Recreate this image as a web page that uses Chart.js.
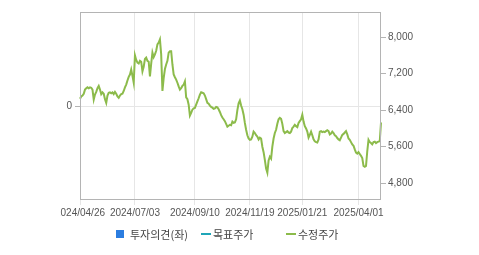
<!DOCTYPE html>
<html>
<head>
<meta charset="utf-8">
<script src="https://cdn.jsdelivr.net/npm/chart.js@4.4.1/dist/chart.umd.min.js"></script>
<style>
  html, body { margin: 0; padding: 0; background: #fff; }
  body { width: 479px; height: 255px; position: relative; overflow: hidden; }
  #clip { position: absolute; left: 60px; top: 0; width: 419px; height: 255px; overflow: hidden; }
  #clip canvas { margin-left: -60px; display: block; }
  #legend { position: absolute; left: 116px; top: 226px; display: flex;
            font: 11px "Noto Sans CJK KR", sans-serif; color: #444; }
  #legend .item { width: 85px; display: flex; align-items: center; white-space: nowrap; }
  #legend .box { width: 8px; height: 8px; margin-right: 6px; }
  #legend .dash { width: 10px; height: 2px; margin-right: 2px; }
</style>
</head>
<body>
<div id="clip"><canvas id="grafica" width="479" height="255"></canvas></div>
<div id="legend"></div>
<script>
// ===============================
// DATOS
// ===============================
const fechas = [
  "2024/04/26","2024/04/29","2024/04/30",
  "2024/05/02","2024/05/03","2024/05/07","2024/05/08","2024/05/09","2024/05/10","2024/05/13","2024/05/14","2024/05/16","2024/05/17",
  "2024/05/20","2024/05/21","2024/05/22","2024/05/23","2024/05/24","2024/05/27","2024/05/28","2024/05/29","2024/05/30","2024/05/31",
  "2024/06/03","2024/06/04","2024/06/05","2024/06/07","2024/06/10","2024/06/11","2024/06/12","2024/06/13","2024/06/14","2024/06/17",
  "2024/06/18","2024/06/19","2024/06/20","2024/06/21","2024/06/24","2024/06/25","2024/06/26","2024/06/27","2024/06/28",
  "2024/07/01","2024/07/02","2024/07/03","2024/07/04","2024/07/05","2024/07/08","2024/07/09","2024/07/10","2024/07/11","2024/07/12",
  "2024/07/15","2024/07/16","2024/07/17","2024/07/18","2024/07/19","2024/07/22","2024/07/23","2024/07/24","2024/07/25","2024/07/26",
  "2024/07/29","2024/07/30","2024/07/31",
  "2024/08/01","2024/08/02","2024/08/05","2024/08/06","2024/08/07","2024/08/08","2024/08/09","2024/08/12","2024/08/13","2024/08/14",
  "2024/08/16","2024/08/19","2024/08/20","2024/08/21","2024/08/22","2024/08/23","2024/08/26","2024/08/27","2024/08/28","2024/08/29","2024/08/30",
  "2024/09/02","2024/09/03","2024/09/04","2024/09/05","2024/09/06","2024/09/09","2024/09/10","2024/09/11","2024/09/12","2024/09/13",
  "2024/09/19","2024/09/20","2024/09/23","2024/09/24","2024/09/25","2024/09/26","2024/09/27","2024/09/30",
  "2024/10/02","2024/10/04","2024/10/07","2024/10/08","2024/10/10","2024/10/11","2024/10/14","2024/10/15","2024/10/16","2024/10/17","2024/10/18",
  "2024/10/21","2024/10/22","2024/10/23","2024/10/24","2024/10/25","2024/10/28","2024/10/29","2024/10/30","2024/10/31",
  "2024/11/01","2024/11/04","2024/11/05","2024/11/06","2024/11/07","2024/11/08","2024/11/11","2024/11/12","2024/11/13","2024/11/14","2024/11/15",
  "2024/11/18","2024/11/19","2024/11/20","2024/11/21","2024/11/22","2024/11/25","2024/11/26","2024/11/27","2024/11/28","2024/11/29",
  "2024/12/02","2024/12/03","2024/12/04","2024/12/05","2024/12/06","2024/12/09","2024/12/10","2024/12/11","2024/12/12","2024/12/13",
  "2024/12/16","2024/12/17","2024/12/18","2024/12/19","2024/12/20","2024/12/23","2024/12/24","2024/12/26","2024/12/27","2024/12/30",
  "2025/01/02","2025/01/03","2025/01/06","2025/01/07","2025/01/08","2025/01/09","2025/01/10","2025/01/13","2025/01/14","2025/01/15","2025/01/16","2025/01/17",
  "2025/01/20","2025/01/21","2025/01/22","2025/01/23","2025/01/24","2025/01/31",
  "2025/02/03","2025/02/04","2025/02/05","2025/02/06","2025/02/07","2025/02/10","2025/02/11","2025/02/12","2025/02/13","2025/02/14",
  "2025/02/17","2025/02/18","2025/02/19","2025/02/20","2025/02/21","2025/02/24","2025/02/25","2025/02/26","2025/02/27","2025/02/28",
  "2025/03/04","2025/03/05","2025/03/06","2025/03/07","2025/03/10","2025/03/11","2025/03/12","2025/03/13","2025/03/14",
  "2025/03/17","2025/03/18","2025/03/19","2025/03/20","2025/03/21","2025/03/24","2025/03/25","2025/03/26","2025/03/27","2025/03/28","2025/03/31",
  "2025/04/01","2025/04/02","2025/04/03","2025/04/04","2025/04/07","2025/04/08","2025/04/09","2025/04/10","2025/04/11",
  "2025/04/14","2025/04/15","2025/04/16","2025/04/17","2025/04/18","2025/04/21","2025/04/22","2025/04/23","2025/04/24","2025/04/25"
];

// 수정주가 (won)
const precios = [
  6650,6700,6720,6760,6850,6880,6900,6880,6900,6890,
  6850,6630,6740,6800,6880,6930,6850,6750,6790,6760,
  6640,6560,6720,6780,6790,6770,6790,6750,6800,6760,
  6700,6670,6720,6750,6760,6820,6900,6960,7050,7130,
  7180,7290,7150,7000,7600,7500,7440,7420,7480,7460,
  7250,7350,7520,7550,7480,7460,7140,7420,7660,7560,
  7620,7700,7840,7880,7950,7620,6820,7100,7300,7400,
  7480,7660,7690,7690,7400,7180,7120,7070,7000,6920,
  6850,6880,6930,6960,7030,6680,6640,6520,6280,6340,
  6410,6440,6450,6520,6590,6660,6740,6790,6780,6770,
  6720,6640,6560,6540,6500,6470,6455,6430,6440,6470,
  6460,6420,6360,6290,6240,6200,6160,6100,6040,6060,
  6080,6070,6150,6120,6130,6200,6400,6550,6610,6500,
  6420,6300,6120,5970,5850,5780,5750,5760,5820,5930,
  5900,5850,5820,5760,5800,5780,5600,5480,5310,5120,
  5030,5300,5380,5340,5600,5780,5900,5970,6100,6200,
  6230,6210,6100,5940,5900,5920,5940,5910,5900,5930,
  6010,6040,6080,6050,6030,6120,6160,6200,6300,6150,
  6050,6000,5930,5800,5860,5930,5850,5760,5720,5700,
  5690,5760,5930,5940,5920,5930,5920,5940,5960,5940,
  5870,5890,5930,5900,5850,5830,5790,5760,5740,5800,
  5860,5880,5910,5940,5870,5780,5750,5700,5650,5620,
  5540,5470,5450,5480,5440,5400,5350,5180,5160,5180,
  5500,5750,5700,5680,5650,5700,5710,5680,5700,5710,
  5720,6130
];

const etiquetasX = ["2024/04/26","2024/07/03","2024/09/10","2024/11/19","2025/01/21","2025/04/01"];
const ticksDerecha = [4800, 5600, 6400, 7200, 8000];
const ticksIzquierda = [0];

const series = ["투자의견(좌)", "목표주가", "수정주가"];
const colores = ["#2b7de0", "#1fa6b8", "#8cbb4b"];
const marcas = ["box", "dash", "dash"];

// ===============================
// LEYENDA
// ===============================
const leyenda = document.getElementById("legend");
series.forEach((nombre, i) => {
    const item = document.createElement("div");
    item.className = "item";
    const m = document.createElement("span");
    m.className = marcas[i];
    m.style.background = colores[i];
    const t = document.createElement("span");
    t.textContent = nombre;
    item.appendChild(m);
    item.appendChild(t);
    leyenda.appendChild(item);
});

// ===============================
// GRÁFICA
// ===============================
const borde = "#b4b4b4";
const rejilla = "#e6e6e6";

// marco alrededor del área del gráfico
const marco = {
    id: "marco",
    afterDraw(chart) {
        const a = chart.chartArea;
        const c = chart.ctx;
        c.save();
        c.strokeStyle = borde;
        c.lineWidth = 1;
        c.strokeRect(Math.round(a.left) + 0.5, Math.round(a.top) + 0.5,
                     Math.round(a.right - a.left) - 1, Math.round(a.bottom - a.top) - 1);
        c.restore();
    }
};

const ctx = document.getElementById("grafica").getContext("2d");
const grafica = new Chart(ctx, {
    type: "line",
    data: {
        labels: fechas,
        datasets: [{
            label: series[2],
            data: precios,
            yAxisID: "y1",
            borderColor: colores[2],
            borderWidth: 2,
            pointRadius: 0,
            tension: 0
        }]
    },
    options: {
        responsive: false,
        animation: false,
        layout: { padding: { top: 12, left: 0, right: 0, bottom: 0 } },
        plugins: { legend: { display: false }, tooltip: { enabled: false } },
        scales: {
            x: {
                afterFit: s => { s.height = 55; },
                afterBuildTicks: s => {
                    s.ticks = s.ticks.filter(t => etiquetasX.includes(fechas[t.value]));
                },
                border: { display: false },
                grid: { color: rejilla, tickLength: 5 },
                ticks: {
                    autoSkip: false, maxRotation: 0, minRotation: 0, padding: 2,
                    color: "#555", font: { family: "Liberation Sans", size: 10 }
                }
            },
            y: {
                position: "left",
                min: -1, max: 1,
                afterFit: s => { s.width = 80; },
                afterBuildTicks: s => { s.ticks = ticksIzquierda.map(v => ({ value: v })); },
                border: { display: false },
                grid: { color: rejilla, tickColor: borde, tickLength: 5 },
                ticks: { padding: 3, color: "#555", font: { family: "Liberation Sans", size: 10 } }
            },
            y1: {
                position: "right",
                min: 4433, max: 8549,
                afterFit: s => { s.width = 98; },
                afterBuildTicks: s => { s.ticks = ticksDerecha.map(v => ({ value: v })); },
                border: { display: false },
                grid: { drawOnChartArea: false, tickColor: borde, tickLength: 5 },
                ticks: {
                    padding: 2, color: "#555", font: { family: "Liberation Sans", size: 10 },
                    callback: v => v.toLocaleString("en-US")
                }
            }
        }
    },
    plugins: [marco]
});
</script>
</body>
</html>
